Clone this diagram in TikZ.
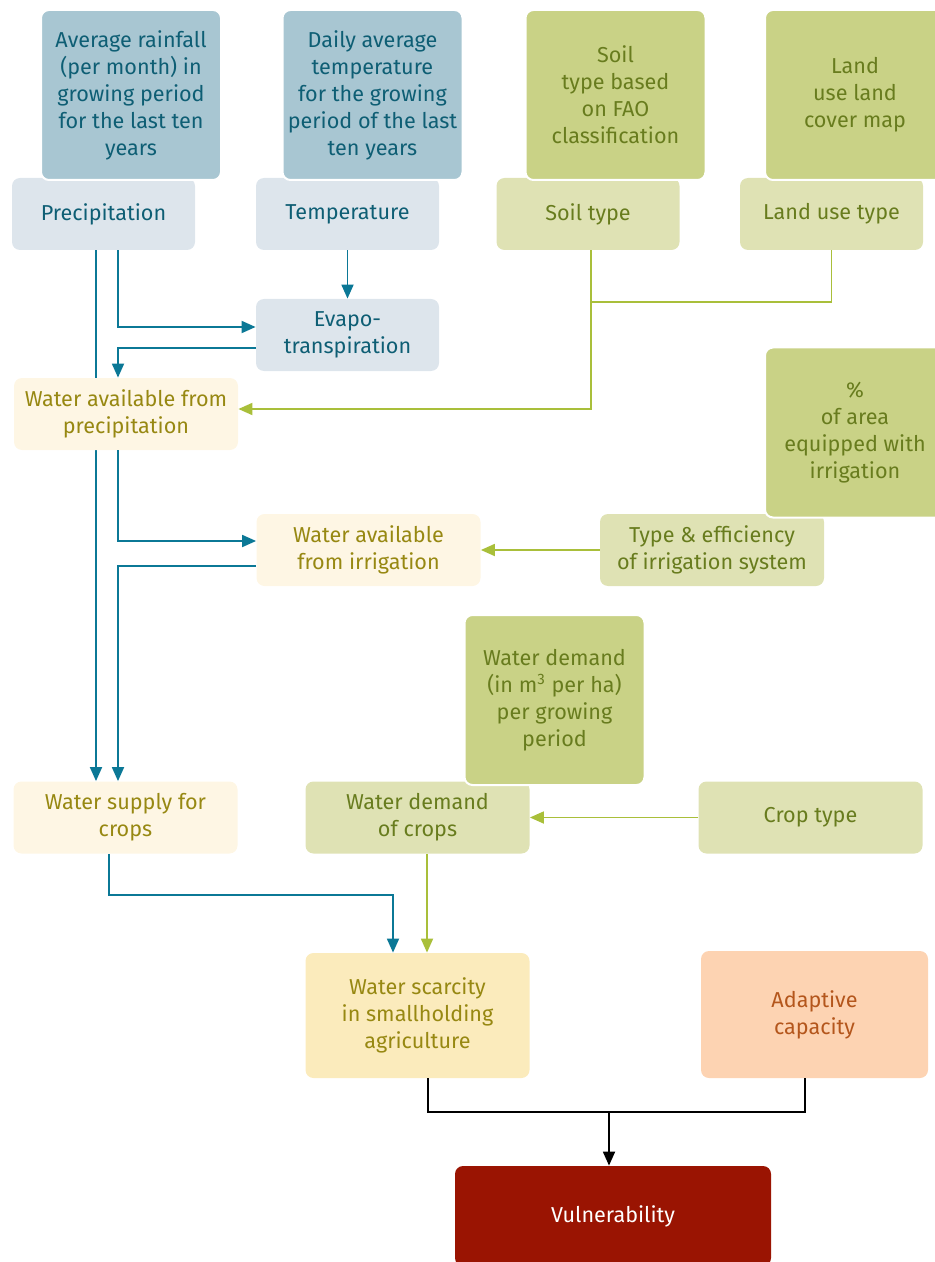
\documentclass[tikz,border=0pt]{standalone}
\usepackage{fontspec}
\setmainfont{Fira Sans}
\usetikzlibrary{arrows.meta,backgrounds}

\definecolor{bluedark}{HTML}{A8C6D2}
\definecolor{bluelight}{HTML}{DDE5EC}
\definecolor{bluetext}{HTML}{0E5E74}
\definecolor{blueline}{HTML}{0B7896}
\definecolor{greendark}{HTML}{C9D286}
\definecolor{greenlight}{HTML}{DFE2B4}
\definecolor{greentext}{HTML}{687C1E}
\definecolor{greenline}{HTML}{A9BF3A}
\definecolor{yellowlight}{HTML}{FEF6E4}
\definecolor{yellowmid}{HTML}{FBEBBC}
\definecolor{yellowtext}{HTML}{978812}
\definecolor{orangelight}{HTML}{FDD3B2}
\definecolor{orangetext}{HTML}{B4561C}
\definecolor{redvuln}{HTML}{9A1402}

\begin{document}
\begin{tikzpicture}[x=0.5pt,y=-0.5pt]
	\tikzstyle{box}=[rounded corners=4pt,inner sep=0pt,align=center,
		minimum width=91.5pt,minimum height=36pt,font=\fontsize{10.8}{13.5}\selectfont];
	\tikzstyle{databox}=[box,draw=white,line width=1pt,minimum width=90pt,minimum height=85pt];
	\tikzstyle{flowblue}=[blueline,line width=0.9pt,-{Triangle[length=7pt,width=6pt]}];
	\tikzstyle{flowgreen}=[greenline,line width=0.9pt,-{Triangle[length=7pt,width=6pt]}];
	\useasboundingbox (0,0) rectangle (935,1262);
	%% inputs
	\node[box,fill=bluelight,text=bluetext]    (prec) at (103.5,214) {Precipitation};
	\node[box,fill=bluelight,text=bluetext]    (temp) at (347.5,214) {Temperature};
	\node[box,fill=greenlight,text=greentext]  (soil) at (588,214)   {Soil type};
	\node[box,fill=greenlight,text=greentext]  (land) at (831.5,214) {Land use type};
	\node[box,fill=bluelight,text=bluetext]    (evapo) at (347.5,335) {Evapo-\\transpiration};
	\node[box,fill=yellowlight,text=yellowtext,minimum width=112pt] (wprec) at (126,414) {Water available from\\precipitation};
	\node[box,fill=yellowlight,text=yellowtext,minimum width=112pt] (wirr) at (368.5,550) {Water available\\from irrigation};
	\node[box,fill=greenlight,text=greentext,minimum width=112pt]  (irrsys) at (712,550) {Type \& efficiency\\of irrigation system};
	\node[box,fill=yellowlight,text=yellowtext,minimum width=112pt] (supply) at (125.5,817.5) {Water supply for\\crops};
	\node[box,fill=greenlight,text=greentext,minimum width=112pt]  (demand) at (417.5,817.5) {Water demand\\of crops};
	\node[box,fill=greenlight,text=greentext,minimum width=112pt]  (crop) at (810.5,817.5) {Crop type};
	\node[box,fill=yellowmid,text=yellowtext,minimum width=112pt,minimum height=62.5pt] (scarcity) at (417.5,1015.5) {Water scarcity\\in smallholding\\agriculture};
	\node[box,fill=orangelight,text=orangetext,minimum width=113.5pt,minimum height=63.5pt] (adaptive) at (814.5,1014.5) {Adaptive\\capacity};
	\node[box,fill=redvuln,text=white,minimum width=158pt,minimum height=50pt] (vuln) at (613,1216) {Vulnerability};
	%% data
	\node[databox,fill=bluedark,text=bluetext]   (raindata) at (131,95)   {Average rainfall\\(per month) in\\growing period\\for the last ten\\years};
	\node[databox,fill=bluedark,text=bluetext]   (tempdata) at (372.5,95) {Daily average\\temperature\\for the growing\\period of the last\\ten years};
	\node[databox,fill=greendark,text=greentext] (soildata) at (615.5,95) {Soil\\type based\\on FAO\\classification};
	\node[databox,fill=greendark,text=greentext] (landdata) at (855,95)   {Land\\use land\\cover map};
	\node[databox,fill=greendark,text=greentext] (irrdata) at (855,432.5) {\%\\of area\\equipped with\\irrigation};
	\node[databox,fill=greendark,text=greentext] (demanddata) at (554.5,700) {Water demand\\(in m\textsuperscript{3} per ha)\\per growing\\period};
	%% connections
	\coordinate (join) at (591,302);
	\coordinate (merge) at (609,1112);
	\begin{pgfonlayer}{background}
	\draw[flowblue] (96,0 |- prec.south) -- (96,0 |- supply.north);
	\end{pgfonlayer}
	\draw[flowblue] (118,0 |- prec.south) |- (evapo.west |- 0,327);
	\draw[flowblue] (temp.south) -- (evapo.north);
	\draw[flowblue] (evapo.west |- 0,348) -| (118,0 |- wprec.north);
	\draw[greenline,line width=0.9pt] (land.south) |- (join);
	\draw[flowgreen] (591,0 |- soil.south) |- (wprec.east |- 0,409);
	\draw[flowblue] (118,0 |- wprec.south) |- (wirr.west |- 0,541);
	\draw[flowblue] (wirr.west |- 0,566) -| (118,0 |- supply.north);
	\draw[flowgreen] (irrsys.west) -- (wirr.east);
	\draw[flowgreen] (crop.west) -- (demand.east);
	\draw[flowblue] (109,0 |- supply.south) -- (109,895) -| (393,0 |- scarcity.north);
	\draw[flowgreen] (427,0 |- demand.south) -- (427,0 |- scarcity.north);
	\draw[line width=0.9pt] (428,0 |- scarcity.south) |- (merge);
	\draw[line width=0.9pt] (805,0 |- adaptive.south) |- (merge);
	\draw[line width=0.9pt,-{Triangle[length=7pt,width=6pt]}] (merge) -- (merge |- vuln.north);
\end{tikzpicture}
\end{document}
